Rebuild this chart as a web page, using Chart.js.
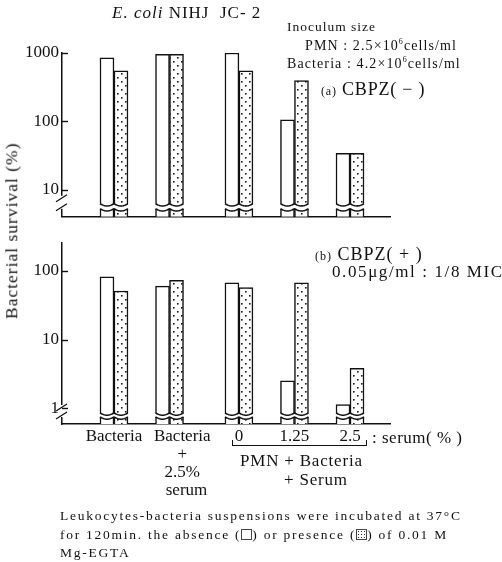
<!DOCTYPE html>
<html>
<head>
<meta charset="utf-8">
<script src="https://cdn.jsdelivr.net/npm/chart.js@4.4.1/dist/chart.umd.min.js"></script>
<style>
  body { margin: 0; background: #fff; }
  #wrap { position: relative; width: 502px; height: 562px; overflow: hidden;
          font-family: "Liberation Serif", "DejaVu Serif", serif; color: #111; }
  .t { position: absolute; white-space: nowrap; line-height: 1; }
  canvas { position: absolute; left: 0; }
  .box { display: inline-block; width: 9px; height: 9px; border: 1px solid #444; vertical-align: -1px; }
  .dot { background-image: radial-gradient(#222 0.8px, transparent 1px); background-size: 3px 3px; }
</style>
</head>
<body>
<div id="wrap">
  <canvas id="chartA" width="502" height="230" style="top:0;width:502px;height:230px"></canvas>
  <canvas id="chartB" width="502" height="280" style="top:230px;width:502px;height:280px"></canvas>

  <div class="t" style="left:112px;top:4px;font-size:17px;letter-spacing:1px"><i>E. coli</i> NIHJ&nbsp; JC- 2</div>
  <div class="t" style="left:287px;top:20px;font-size:13.5px;letter-spacing:1px">Inoculum size</div>
  <div class="t" style="left:305px;top:38px;font-size:14px;letter-spacing:1.1px">PMN : 2.5×10<sup style="font-size:8px">6</sup>cells/ml</div>
  <div class="t" style="left:287px;top:56px;font-size:14px;letter-spacing:1.1px">Bacteria : 4.2×10<sup style="font-size:8px">6</sup>cells/ml</div>
  <div class="t" style="left:321px;top:80px;font-size:18px;letter-spacing:0.8px"><span style="font-size:12px">(a)</span> CBPZ( − )</div>
  <div class="t" style="left:315px;top:245px;font-size:18px;letter-spacing:1px"><span style="font-size:12px">(b)</span> CBPZ( + )</div>
  <div class="t" style="left:332px;top:263px;font-size:17px;letter-spacing:1.6px">0.05μg/ml : 1/8 MIC</div>

  <div class="t" style="left:-88px;top:222px;width:200px;text-align:center;font-size:17.5px;letter-spacing:1px;transform:rotate(-90deg)">Bacterial survival (%)</div>

  <div class="t" style="left:372px;top:429px;font-size:17px;letter-spacing:0.5px">: serum( % )</div>
  <div style="position:absolute;left:232px;top:440px;width:133px;height:5px;border:1.5px solid #111;border-top:none"></div>
  <div class="t" style="left:240px;top:452px;font-size:17px;letter-spacing:0.8px">PMN + Bacteria</div>
  <div class="t" style="left:284px;top:471px;font-size:17px;letter-spacing:0.8px">+ Serum</div>

  <div class="t" style="left:60px;top:507px;font-size:13.5px;letter-spacing:1.75px;line-height:18.5px">
    Leukocytes-bacteria suspensions were incubated at 37°C<br>
    for 120min. the absence (<span class="box"></span>) or presence (<span class="box dot"></span>) of 0.01 M<br>
    Mg-EGTA
  </div>
</div>

<script>
// --- DATA ---
// second group's lines are padded so they sit a little right of the bars, like the print
const groupLabels = [
    ['Bacteria'],
    ['\u2003\u2002Bacteria', '\u2003\u2002+', '\u2003\u20022.5%', '\u2003\u2003serum'],
    ['0'], ['1.25'], ['2.5']
];
const groupSlots = [0, 1, 2.25, 3.25, 4.25];

// (a) CBPZ(-)
const absenceA = [850, 960, 1000, 105, 34];
const presenceA = [550, 960, 550, 395, 34];
const ticksA = [10, 100, 1000];

// (b) CBPZ(+)
const absenceB = [82, 60, 67, 2.5, 1.13];
const presenceB = [51, 73, 57, 67, 3.8];
const ticksB = [1, 10, 100];

const SERIF = '"Liberation Serif", "DejaVu Serif", serif';
const INK = '#111';

// dotted fill for the Mg-EGTA bars
function makeDots() {
    const c = document.createElement('canvas');
    c.width = 8; c.height = 8;
    const g = c.getContext('2d');
    g.fillStyle = '#fff';
    g.fillRect(0, 0, 8, 8);
    g.fillStyle = '#1a1a1a';
    g.fillRect(1, 1, 1.6, 1.6);
    g.fillRect(5, 5, 1.6, 1.6);
    return g.createPattern(c, 'repeat');
}
const dots = makeDots();

// broken bars: white wavy gap near the base of every bar pair + break on the y axis
const breakPlugin = {
    id: 'breaks',
    afterDatasetsDraw(chart, args, opts) {
        const ctx = chart.ctx;
        const area = chart.chartArea;
        const yLow = area.bottom - opts.stub;
        const yHigh = yLow - opts.gap;
        const m0 = chart.getDatasetMeta(0), m1 = chart.getDatasetMeta(1);
        const amp = 2.2;
        m0.data.forEach((bar, i) => {
            const other = m1.data[i];
            const bars = [bar, other].map(b => ({ l: b.x - b.width / 2, w: b.width }));
            const wave = (x, y0) => {
                const b = x < bars[1].l ? bars[0] : bars[1];
                return y0 + amp * Math.sin(Math.PI * (x - b.l) / b.w);
            };
            const left = bars[0].l, right = bars[1].l + bars[1].w;
            ctx.save();
            ctx.beginPath();
            ctx.moveTo(left - 1.5, yHigh - 1);
            for (let x = left; x <= right; x += 0.5) ctx.lineTo(x, wave(x, yHigh));
            ctx.lineTo(right + 1.5, yHigh - 1);
            ctx.lineTo(right + 1.5, yLow);
            for (let x = right; x >= left; x -= 0.5) ctx.lineTo(x, wave(x, yLow));
            ctx.lineTo(left - 1.5, yLow);
            ctx.closePath();
            ctx.fillStyle = '#fff';
            ctx.fill();
            ctx.strokeStyle = INK;
            ctx.lineWidth = 1.5;
            [yHigh, yLow].forEach(y0 => {
                ctx.beginPath();
                for (let x = left; x <= right; x += 0.5) {
                    if (x === left) ctx.moveTo(x, wave(x, y0)); else ctx.lineTo(x, wave(x, y0));
                }
                ctx.stroke();
            });
            ctx.restore();
        });

        // y axis break
        const ax = area.left;
        ctx.save();
        ctx.fillStyle = '#fff';
        ctx.fillRect(ax - 3, yHigh - 8, 6, opts.gap + 8);
        ctx.strokeStyle = INK;
        ctx.lineWidth = 1.3;
        ctx.beginPath();
        ctx.moveTo(ax - 6, yHigh - 2); ctx.lineTo(ax + 5, yHigh - 9);
        ctx.moveTo(ax - 6, yLow + 2); ctx.lineTo(ax + 5, yLow - 5);
        ctx.stroke();
        ctx.restore();
    }
};

// tick marks pointing into the plot
const inTicks = {
    id: 'inTicks',
    afterDraw(chart) {
        const ctx = chart.ctx, y = chart.scales.y, left = chart.chartArea.left;
        ctx.save();
        ctx.strokeStyle = INK;
        ctx.lineWidth = 1.4;
        y.ticks.forEach(t => {
            const p = Math.round(y.getPixelForValue(t.value)) + 0.5;
            ctx.beginPath();
            ctx.moveTo(left, p);
            ctx.lineTo(left + 6, p);
            ctx.stroke();
        });
        ctx.restore();
    }
};

function buildChart(id, absence, presence, yTicks, yMin, yMax, pad, xHeight, showLabels, brk) {
    return new Chart(document.getElementById(id), {
        type: 'bar',
        data: {
            datasets: [
                {
                    label: 'absence of Mg-EGTA',
                    data: absence.map((v, i) => ({ x: groupSlots[i], y: v })),
                    backgroundColor: '#fff',
                    borderColor: INK,
                    borderWidth: 1.5,
                    barThickness: 14
                },
                {
                    label: 'presence of Mg-EGTA',
                    data: presence.map((v, i) => ({ x: groupSlots[i], y: v })),
                    backgroundColor: dots,
                    borderColor: INK,
                    borderWidth: 1.5,
                    barThickness: 14
                }
            ]
        },
        options: {
            responsive: false,
            animation: false,
            layout: { padding: pad },
            plugins: { legend: { display: false }, tooltip: { enabled: false }, breaks: brk },
            scales: {
                x: {
                    type: 'linear',
                    offset: false,
                    min: -0.936,
                    max: 4.97,
                    grid: { display: false, drawTicks: false },
                    border: { color: INK, width: 1.5 },
                    afterBuildTicks: s => { s.ticks = groupSlots.map(v => ({ value: v })); },
                    ticks: {
                        display: showLabels,
                        color: INK,
                        font: { family: SERIF, size: 17, lineHeight: 1.05 },
                        padding: 4,
                        maxRotation: 0,
                        autoSkip: false,
                        callback: (v, i) => groupLabels[i]
                    },
                    afterFit: s => { s.height = xHeight; }
                },
                y: {
                    type: 'logarithmic',
                    min: yMin,
                    max: yMax,
                    grid: { display: false, drawTicks: false },
                    border: { color: INK, width: 1.5 },
                    afterBuildTicks: s => { s.ticks = yTicks.map(v => ({ value: v })); },
                    ticks: {
                        color: INK,
                        font: { family: SERIF, size: 17 },
                        padding: 3,
                        callback: v => String(v)
                    },
                    afterFit: s => { s.width = 62; }
                }
            }
        },
        plugins: [breakPlugin, inTicks]
    });
}

buildChart('chartA', absenceA, presenceA, ticksA, 4, 1000,
    { top: 53, right: 112, bottom: 10, left: 0 }, 0, false, { stub: 8, gap: 5 });
buildChart('chartB', absenceB, presenceB, ticksB, 0.59, 253,
    { top: 13, right: 112, bottom: 0, left: 0 }, 86, true, { stub: 7, gap: 4 });
</script>
</body>
</html>
